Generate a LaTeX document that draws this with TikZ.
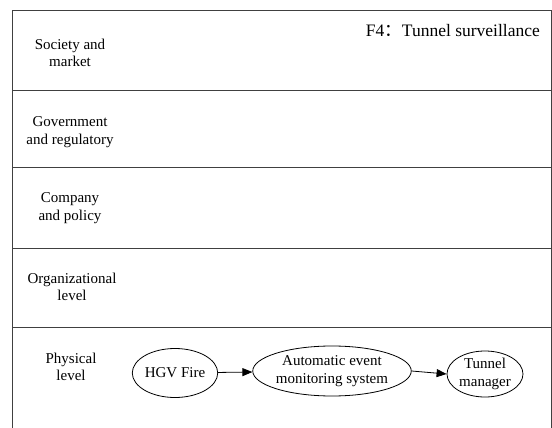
\documentclass[tikz,border=0pt]{standalone}
\usepackage{fontspec}
\setmainfont{Liberation Serif}
\newfontfamily\cjkfont{Noto Sans CJK SC}
\usetikzlibrary{shapes.geometric,arrows.meta}
\begin{document}
\begin{tikzpicture}[x=1pt,y=-1pt,
  laneline/.style={draw=black!75,line width=0.9pt},
  lanelabel/.style={align=center,font=\fontsize{15}{17.5}\selectfont,inner sep=0pt},
  event/.style={ellipse,draw,line width=0.8pt,inner sep=0pt,align=center,
    font=\fontsize{15}{17.5}\selectfont},
  flow/.style={-{Triangle[length=10pt,width=8pt]},line width=0.8pt}]
\useasboundingbox (0,0) rectangle (552,428);
% lane frame
\draw[laneline] (12,428) -- (12,10) -- (551,10) -- (551,428);
\foreach \yy in {90,167,248,327} \draw[laneline] (12,\yy) -- (551,\yy);
% lane labels
\node[lanelabel] (soc) at (70,53) {Society and\\market};
\node[lanelabel] (gov) at (70,132) {Government\\and regulatory};
\node[lanelabel] (com) at (70,208) {Company\\and policy};
\node[lanelabel] (org) at (72,287) {Organizational\\level};
\node[lanelabel] (phy) at (71,367) {Physical\\level};
\node[anchor=base east,inner sep=0pt,font=\fontsize{17.5}{20}\selectfont] (title) at (540,37)
  {F4{\cjkfont ：}Tunnel surveillance};
% events
\node[event,minimum width=84,minimum height=49] (fire) at (175,373) {HGV Fire};
\node[event,minimum width=136,minimum height=50] (ams) at (332,371) {Automatic event\\monitoring system};
\node[event,minimum width=76,minimum height=46] (tm) at (485,374) {Tunnel\\manager};
\draw[flow] (fire) -- (ams);
\draw[flow] (ams.east) -- (tm.west);
\end{tikzpicture}
\end{document}
